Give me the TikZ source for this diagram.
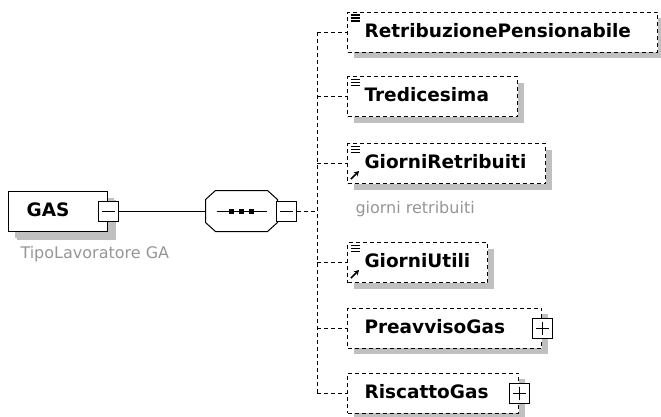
\documentclass[tikz,border=0pt]{standalone}
\usepackage{fontspec}
\setmainfont{DejaVu Sans}
\usepackage{xcolor}
\usetikzlibrary{shadows,positioning,arrows.meta}

\definecolor{shadowgray}{RGB}{192,192,192}
\definecolor{notegray}{RGB}{150,150,150}

\begin{document}
\begin{tikzpicture}[
    x=1pt, y=-1pt,
    line width=1pt,
    elem/.style={rectangle, draw, dash pattern=on 4pt off 3pt, fill=white, anchor=west,
        minimum height=40pt, inner xsep=17pt, inner ysep=0pt, align=left,
        text height=12pt, text depth=2pt, font=\fontsize{18.5}{21}\selectfont\bfseries,
        drop shadow={shadow xshift=6pt, shadow yshift=-6pt, fill=shadowgray, opacity=1}},
    root/.style={elem, solid, line width=1.3pt, inner xsep=18pt,
        drop shadow={shadow xshift=8pt, shadow yshift=-8pt, fill=shadowgray, opacity=1}},
    seqbox/.style={rectangle, minimum width=72pt, minimum height=41pt, inner sep=0pt},
    expander/.style={rectangle, draw, solid, fill=white, minimum size=20pt, inner sep=0pt},
    note/.style={inner sep=0pt, text=notegray, font=\fontsize{16}{19}\selectfont},
    conn/.style={dash pattern=on 4pt off 3pt}
]
\useasboundingbox (0,0) rectangle (661,416);

% root element and sequence
\node[root, text width=63pt] (gas) at (8,211.5) {GAS};
\node[expander] (gasx) at (gas.east) {};
\node[note, below right=14pt and 12pt of gas.south west] (gasnote) {TipoLavoratore GA};
\node[seqbox] (seq) at (242,211.5) {};
\fill[shadowgray, shift={(8,8)}] (seq.north west) ++(10,0) -- ++(52,0) -- ++(10,9)
    -- ++(0,23) -- ++(-10,9) -- ++(-52,0) -- ++(-10,-9) -- ++(0,-23) -- cycle;
\draw[fill=white] (seq.north west) ++(10,0) -- ++(52,0) -- ++(10,9)
    -- ++(0,23) -- ++(-10,9) -- ++(-52,0) -- ++(-10,-9) -- ++(0,-23) -- cycle;
\node[expander] (seqx) at ([xshift=7.5pt]seq.east) {};
\coordinate (rail) at (317,211.5);

% child elements
\node[elem, text width=276pt] (retrib) at (347,32) {RetribuzionePensionabile};
\node[elem, text width=136pt] (tredic) at (347,96.5) {Tredicesima};
\node[elem, text width=164pt] (giornir) at (347,163.5) {GiorniRetribuiti};
\node[note, below right=17pt and 8pt of giornir.south west] (giornirnote) {giorni retribuiti};
\node[elem, text width=106pt] (giorniu) at (347,262.5) {GiorniUtili};
\node[elem, text width=160pt] (preavv) at (347,328) {PreavvisoGas};
\node[expander] (preavvx) at (preavv.east) {};
\node[elem, text width=137pt] (riscatto) at (347,393) {RiscattoGas};
\node[expander] (riscattox) at (riscatto.east) {};

% connectors
\draw (gasx) -- (seq.west);
\draw[conn] (seqx) -- (rail);
\draw[conn] (rail |- retrib.west) -- (rail |- riscatto.west);
\foreach \n in {retrib,tredic,giornir,giorniu,preavv,riscatto}
    \draw[conn] (rail |- \n.west) -- (\n.west);

% sequence symbol
\draw ([xshift=11pt]seq.west) -- ([xshift=-12pt]seq.east);
\foreach \dx in {-11,-1,9}
    \fill ([xshift=\dx pt]seq.center) +(-2.5,-2.5) rectangle +(2.5,2.5);

% minus and plus signs
\foreach \n in {gasx,seqx,preavvx,riscattox}
    \draw ([xshift=4pt]\n.west) -- ([xshift=-4pt]\n.east);
\foreach \n in {preavvx,riscattox}
    \draw ([yshift=-4pt]\n.north) -- ([yshift=4pt]\n.south);

% simple content and reference icons
\foreach \n in {retrib,tredic,giornir,giorniu}
    \draw[line width=1.2pt] ([xshift=3.5pt,yshift=-3.5pt]\n.north west) -- ++(9,0)
        ++(-9,3) -- ++(9,0) ++(-9,3) -- ++(9,0);
\foreach \n in {giornir,giorniu}
    \draw[-{Stealth[length=5pt,width=5.5pt]}, line width=1.5pt]
        ([xshift=4pt,yshift=5pt]\n.south west) -- ++(8,-8);
\end{tikzpicture}
\end{document}
